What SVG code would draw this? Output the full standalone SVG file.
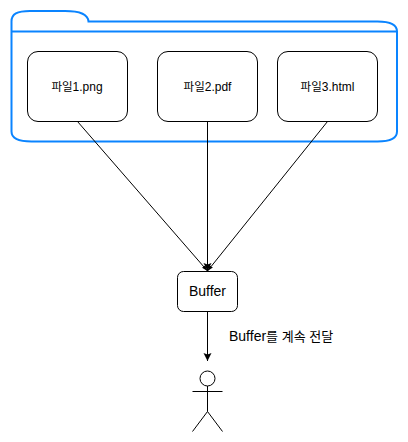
<svg xmlns="http://www.w3.org/2000/svg" width="408" height="442" viewBox="0 0 408 442">
<style>
text{font-family:"Liberation Sans","Noto Sans CJK KR",sans-serif;fill:#000;text-anchor:middle}
.box{fill:#fff;stroke:#000;stroke-width:1}
.f{font-size:12px}
.h{font-size:11.5px}
.c{fill:none;stroke:#000;stroke-width:1}
.blue{fill:none;stroke:#0a84ff;stroke-width:2}
</style>
<defs>
<marker id="a" markerUnits="userSpaceOnUse" markerWidth="9" markerHeight="9" refX="8" refY="4" orient="auto"><path d="M0 0L8 4L0 8L1.500 4Z" fill="#000"/></marker>
<marker id="b" markerUnits="userSpaceOnUse" markerWidth="7" markerHeight="5" refX="6" refY="2" orient="auto"><path d="M0 0L6 2L0 4Z" fill="#000"/></marker>
</defs>
<g id="folder">
<path class="blue" d="M11.500 21.500C11.500 14 17 11 30 11H65C78 11 88 14 88.500 21.500H377.500C390 21.500 397 25 397 31.500V131.500C397 138 390 141.500 377.500 141.500H31.500C18 141.500 11.500 138 11.500 131.500Z"/>
<path class="blue" d="M11.500 31.500H397"/>
</g>
<g id="connectors">
<path class="c" d="M77.500 121.500L207.500 271" marker-end="url(#b)"/>
<path class="c" d="M327.500 121.500L207.500 271" marker-end="url(#b)"/>
<path class="c" d="M207.500 121.500V271" marker-end="url(#a)"/>
<path class="c" d="M207.500 311.500V361" marker-end="url(#a)"/>
</g>
<g id="file1"><rect class="box" x="27.500" y="51.500" width="100" height="70" rx="10.500"/><text class="f" x="77" y="90.500"><tspan class="h">파일</tspan>1.png</text></g>
<g id="file2"><rect class="box" x="157.500" y="51.500" width="100" height="70" rx="10.500"/><text class="f" x="207.500" y="90.500"><tspan class="h">파일</tspan>2.pdf</text></g>
<g id="file3"><rect class="box" x="277.500" y="51.500" width="100" height="70" rx="10.500"/><text class="f" x="327.500" y="90.500"><tspan class="h">파일</tspan>3.html</text></g>
<g id="buffer"><rect class="box" x="177.500" y="271.500" width="60" height="40" rx="6"/><text x="207.500" y="296" font-size="14px">Buffer</text></g>
<g id="label"><text x="229" y="340.500" font-size="14px" style="text-anchor:start">Buffer<tspan font-size="13px">를 계속 전달</tspan></text></g>
<g id="person" fill="none" stroke="#000"><circle cx="207.500" cy="378.500" r="7.500" fill="#fff"/><path d="M207.500 386V411.500M192.500 391.500H222.500M192.500 431.500L207.500 411.500L222.500 431.500"/></g>
</svg>
